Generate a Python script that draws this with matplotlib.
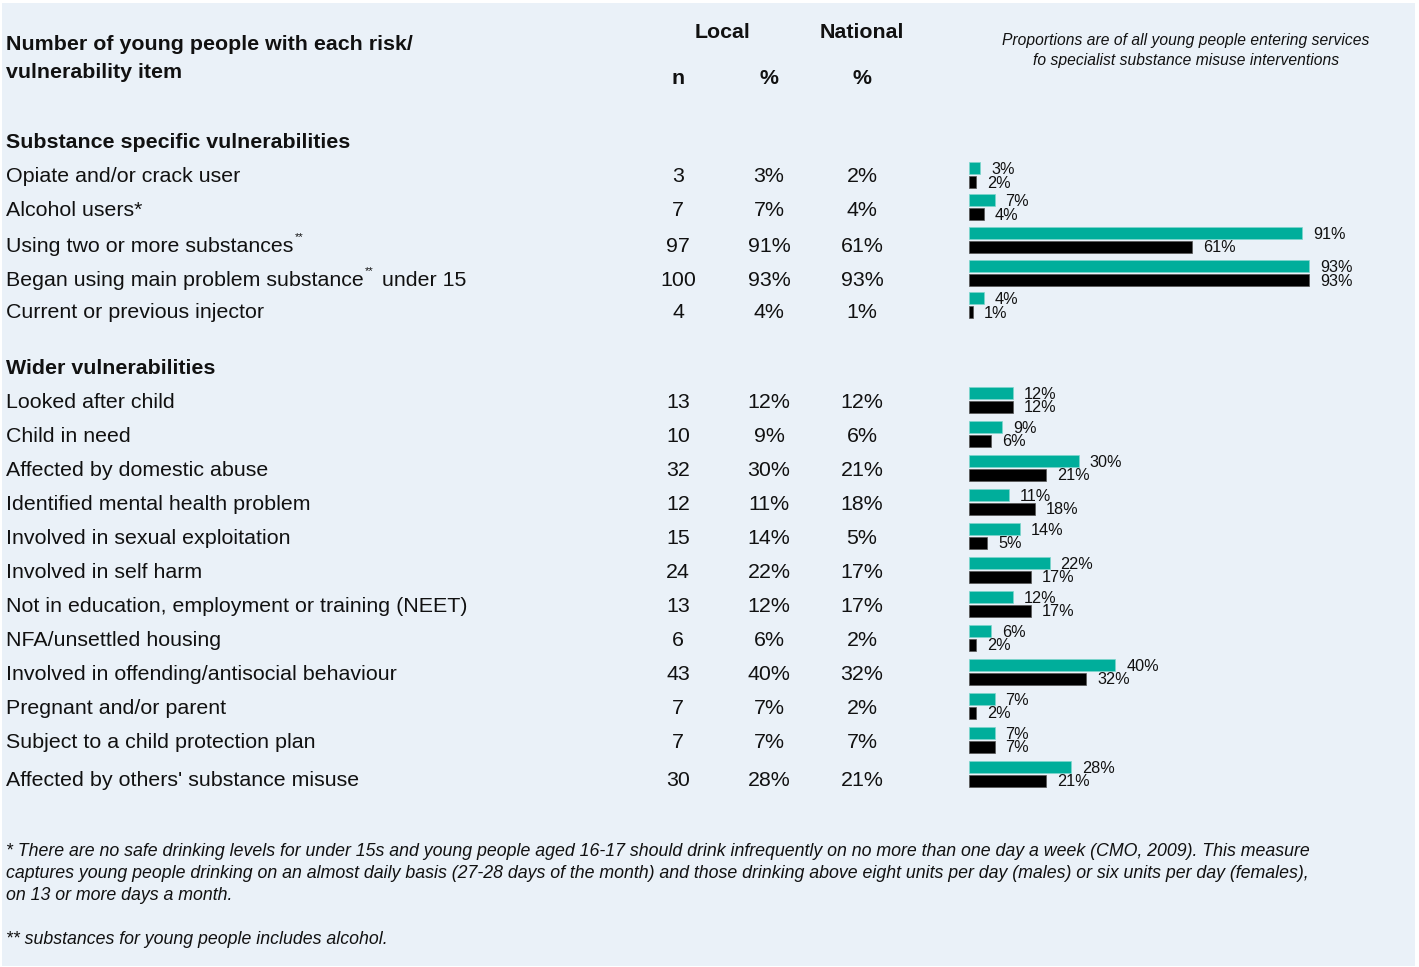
import matplotlib
matplotlib.use("Agg")
import matplotlib.pyplot as plt
from matplotlib.patches import Rectangle

plt.rcParams['font.family'] = ['Liberation Sans', 'DejaVu Sans']

# ---------------- data ----------------
substance_items = [
    "Opiate and/or crack user",
    "Alcohol users*",
    "Using two or more substances",
    "Began using main problem substance",
    "Current or previous injector",
]
substance_n = [3, 7, 97, 100, 4]
substance_local = [3, 7, 91, 93, 4]
substance_national = [2, 4, 61, 93, 1]

wider_items = [
    "Looked after child",
    "Child in need",
    "Affected by domestic abuse",
    "Identified mental health problem",
    "Involved in sexual exploitation",
    "Involved in self harm",
    "Not in education, employment or training (NEET)",
    "NFA/unsettled housing",
    "Involved in offending/antisocial behaviour",
    "Pregnant and/or parent",
    "Subject to a child protection plan",
    "Affected by others' substance misuse",
]
wider_n = [13, 10, 32, 12, 15, 24, 13, 6, 43, 7, 7, 30]
wider_local = [12, 9, 30, 11, 14, 22, 12, 6, 40, 7, 7, 28]
wider_national = [12, 6, 21, 18, 5, 17, 17, 2, 32, 2, 7, 21]

footnote1_lines = [
    "* There are no safe drinking levels for under 15s and young people aged 16-17 should drink infrequently on no more than one day a week (CMO, 2009). This measure",
    "captures young people drinking on an almost daily basis (27-28 days of the month) and those drinking above eight units per day (males) or six units per day (females),",
    "on 13 or more days a month.",
]
footnote2 = "** substances for young people includes alcohol."

# ---------------- layout (pixels) ----------------
W, H = 1419, 967
BG = "#EAF1F8"
TEAL = "#00AE9B"
TXT = "#111111"
FS = 15.4

fig = plt.figure(figsize=(W / 100, H / 100), dpi=100)
fig.patch.set_facecolor("white")

ax = fig.add_axes([0, 0, 1, 1])
ax.set_xlim(0, W)
ax.set_ylim(H, 0)
ax.axis("off")
ax.add_patch(Rectangle((2, 3), 1413, 963, facecolor=BG, edgecolor="none", zorder=0))

DY = 2  # small vertical nudge for centered text

# header
ax.text(6, 43 + DY, "Number of young people with each risk/", fontsize=FS, fontweight="bold",
        va="center", ha="left", color=TXT)
ax.text(6, 71 + DY, "vulnerability item", fontsize=FS, fontweight="bold", va="center", ha="left", color=TXT)
ax.text(723, 31 + DY, "Local", fontsize=FS, fontweight="bold", va="center", ha="center", color=TXT)
ax.text(862, 31 + DY, "National", fontsize=FS, fontweight="bold", va="center", ha="center", color=TXT)
ax.text(678, 77 + DY, "n", fontsize=FS, fontweight="bold", va="center", ha="center", color=TXT)
ax.text(769, 77 + DY, "%", fontsize=FS, fontweight="bold", va="center", ha="center", color=TXT)
ax.text(862, 77 + DY, "%", fontsize=FS, fontweight="bold", va="center", ha="center", color=TXT)
ax.text(1186, 38 + DY, "Proportions are of all young people entering services", fontsize=11.25,
        style="italic", va="center", ha="center", color=TXT)
ax.text(1186, 58 + DY, "fo specialist substance misuse interventions", fontsize=11.25,
        style="italic", va="center", ha="center", color=TXT)

ax.text(6, 141 + DY, "Substance specific vulnerabilities", fontsize=FS, fontweight="bold",
        va="center", ha="left", color=TXT)
ax.text(6, 367 + DY, "Wider vulnerabilities", fontsize=FS, fontweight="bold",
        va="center", ha="left", color=TXT)

sub_text_y = [175, 209, 245, 279, 311]
sub_bar_y = [175, 207, 240, 273, 305]
wid_text_y = [400, 435, 469, 503, 537, 571, 605, 639, 673, 707, 741, 779]
wid_bar_y = [400 + 34 * i for i in range(12)]

fig.canvas.draw()
renderer = fig.canvas.get_renderer()

def row_text(y, label, n, loc, nat, sup_after=False, sup_mid=None):
    y = y + DY
    t = ax.text(6, y, label, fontsize=FS, va="center", ha="left", color=TXT)
    if sup_after or sup_mid is not None:
        bb = t.get_window_extent(renderer)
        s = ax.text(bb.x1 + 1, y - 10, "**", fontsize=8, va="center", ha="left", color=TXT)
        if sup_mid is not None:
            bb2 = s.get_window_extent(renderer)
            ax.text(bb2.x1 + 3, y, sup_mid, fontsize=FS, va="center", ha="left", color=TXT)
    ax.text(678, y, str(n), fontsize=FS, va="center", ha="center", color=TXT)
    ax.text(769, y, f"{loc}%", fontsize=FS, va="center", ha="center", color=TXT)
    ax.text(862, y, f"{nat}%", fontsize=FS, va="center", ha="center", color=TXT)

for i, lab in enumerate(substance_items):
    row_text(sub_text_y[i], lab, substance_n[i], substance_local[i], substance_national[i],
             sup_after=(i == 2), sup_mid=(" under 15" if i == 3 else None))
for i, lab in enumerate(wider_items):
    row_text(wid_text_y[i], lab, wider_n[i], wider_local[i], wider_national[i])

# footnotes
for yy, line in zip([850, 872, 894], footnote1_lines):
    ax.text(6, yy + DY, line, fontsize=12.8, style="italic", va="center", ha="left", color=TXT)
ax.text(6, 938 + DY, footnote2, fontsize=12.8, style="italic", va="center", ha="left", color=TXT)

# ---------------- bars ----------------
x0, x1 = 969, 1335
bax = fig.add_axes([x0 / W, 0, (x1 - x0) / W, 1])
bax.set_xlim(0, 100)
bax.set_ylim(H, 0)
bax.axis("off")
bax.patch.set_alpha(0)

bar_y = sub_bar_y + wid_bar_y
local_vals = substance_local + wider_local
nat_vals = substance_national + wider_national
th = 12
teal_c = [y - 7 for y in bar_y]
blk_c = [y + 6.5 for y in bar_y]
bax.barh(teal_c, local_vals, height=th, color=TEAL, edgecolor="#7fd6cc", linewidth=0.5)
bax.barh(blk_c, nat_vals, height=th, color="black", edgecolor="#555555", linewidth=0.5)
for yc, v in zip(teal_c, local_vals):
    bax.text(v + 3.0, yc + 1.5, f"{v}%", fontsize=11.7, va="center", ha="left", color=TXT)
for yc, v in zip(blk_c, nat_vals):
    bax.text(v + 3.0, yc + 1.5, f"{v}%", fontsize=11.7, va="center", ha="left", color=TXT)

fig.savefig("out.png", dpi=100, facecolor=fig.get_facecolor())
